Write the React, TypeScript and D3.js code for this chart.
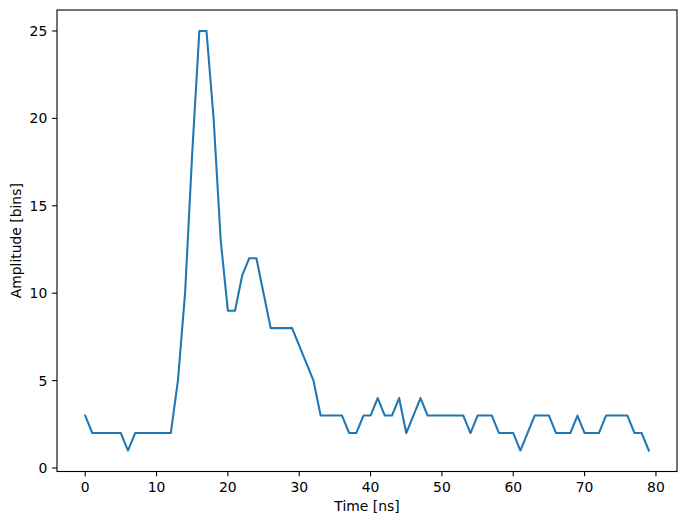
import React from "react";
import * as d3 from "d3";

const times: number[] = Array.from({ length: 80 }, (_, i) => i);
const amplitudes: number[] = [
  3, 2, 2, 2, 2, 2, 1, 2, 2, 2,
  2, 2, 2, 5, 10, 18, 25, 25, 20, 13,
  9, 9, 11, 12, 12, 10, 8, 8, 8, 8,
  7, 6, 5, 3, 3, 3, 3, 2, 2, 3,
  3, 4, 3, 3, 4, 2, 3, 4, 3, 3,
  3, 3, 3, 3, 2, 3, 3, 3, 2, 2,
  2, 1, 2, 3, 3, 3, 2, 2, 2, 3,
  2, 2, 2, 3, 3, 3, 3, 2, 2, 1,
];
const xTicks: number[] = [0, 10, 20, 30, 40, 50, 60, 70, 80];
const yTicks: number[] = [0, 5, 10, 15, 20, 25];
const xLabel = "Time [ns]";
const yLabel = "Amplitude [bins]";

const W = 686;
const H = 525;
const left = 57;
const right = 677;
const top = 10;
const bottom = 471.5;
const font = "DejaVu Sans";
const fs = 13.9;
const tickLen = 4.86;

export default function App() {
  const xMin = d3.min(times)!;
  const xMax = d3.max(times)!;
  const yMin = d3.min(amplitudes)!;
  const yMax = d3.max(amplitudes)!;
  const xm = (xMax - xMin) * 0.05;
  const ym = (yMax - yMin) * 0.05;
  const x = d3.scaleLinear().domain([xMin - xm, xMax + xm]).range([left, right]);
  const y = d3.scaleLinear().domain([0 - 0.2, yMax + ym]).range([bottom, top]);
  const data = times.map((t, i) => [t, amplitudes[i]] as [number, number]);
  const line = d3.line<[number, number]>().x((d) => x(d[0])).y((d) => y(d[1]));

  return (
    <svg
      width={W}
      height={H}
      style={{ position: "absolute", left: 0, top: 0, background: "#fff" }}
      fontFamily={font}
    >
      <rect x={0} y={0} width={W} height={H} fill="#fff" />
      <path d={line(data) || ""} fill="none" stroke="#1f77b4" strokeWidth={2.08} strokeLinejoin="round" strokeLinecap="square" />
      <rect x={left} y={top} width={right - left} height={bottom - top} fill="none" stroke="#000" strokeWidth={1.1} />
      {xTicks.map((t) => (
        <g key={"x" + t}>
          <line x1={x(t)} x2={x(t)} y1={bottom} y2={bottom + tickLen} stroke="#000" strokeWidth={1.1} />
          <text x={x(t)} y={bottom + tickLen + 4.86 + 10.6} fontSize={fs} textAnchor="middle" fill="#000">
            {t}
          </text>
        </g>
      ))}
      {yTicks.map((t) => (
        <g key={"y" + t}>
          <line x1={left - tickLen} x2={left} y1={y(t)} y2={y(t)} stroke="#000" strokeWidth={1.1} />
          <text x={left - tickLen - 4.86} y={y(t) + 5} fontSize={fs} textAnchor="end" fill="#000">
            {t}
          </text>
        </g>
      ))}
      <text x={(left + right) / 2} y={511} fontSize={fs} textAnchor="middle" fill="#000">
        {xLabel}
      </text>
      <text
        transform={`translate(${21},${(top + bottom) / 2}) rotate(-90)`}
        fontSize={fs}
        textAnchor="middle"
        fill="#000"
      >
        {yLabel}
      </text>
    </svg>
  );
}
